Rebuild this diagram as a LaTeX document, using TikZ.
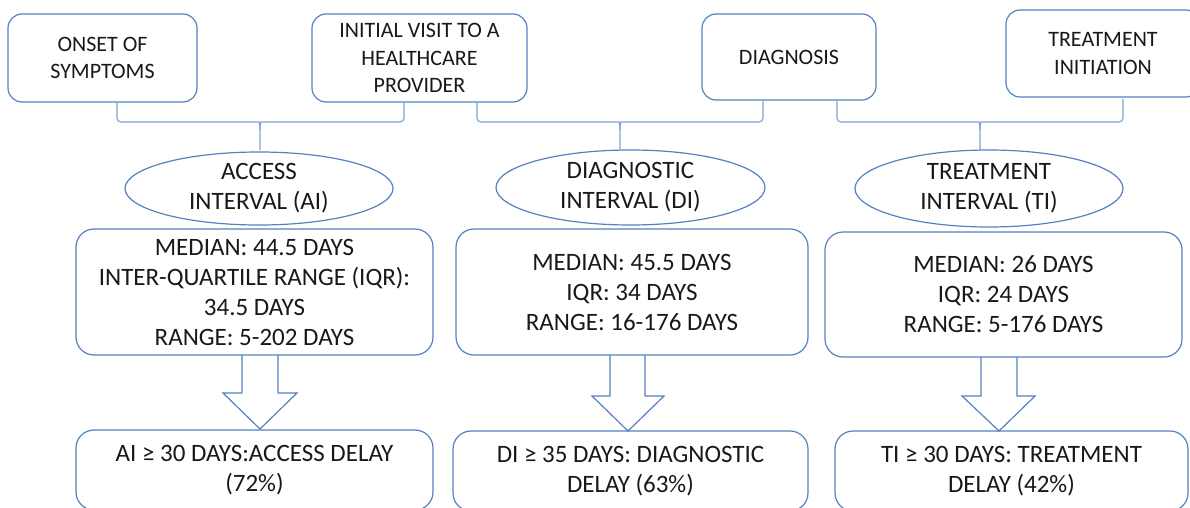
\documentclass[tikz,border=0pt]{standalone}
\usepackage{fontspec}
\setmainfont{Carlito}
\usetikzlibrary{shapes.geometric}
\definecolor{bl}{RGB}{84,130,190}
\definecolor{brc}{RGB}{125,165,214}
\definecolor{txt}{RGB}{25,25,25}
\tikzset{
  topbox/.style={draw=bl, line width=1.2pt, rounded corners=14pt, fill=white, align=center,
    font=\fontsize{22}{27.5}\selectfont, text=txt, inner sep=0pt},
  midbox/.style={draw=bl, line width=1.2pt, rounded corners=18pt, fill=white, align=center,
    font=\fontsize{25}{30}\selectfont, text=txt, inner sep=0pt},
  ell/.style={draw=bl, line width=1.2pt, ellipse, fill=white, inner sep=0pt},
  lbl/.style={align=center, font=\fontsize{25}{30}\selectfont, text=txt, inner sep=0pt},
  bracket/.style={draw=brc, line width=1.2pt},
  blockarrow/.style={draw=bl, line width=1.2pt, line join=miter},
}
\newcommand\mybrace[5]{%
  \draw[bracket] (#1,#5) [rounded corners=4pt]-- (#1,122) -- ({#2-5},122) [sharp corners] .. controls ({#2-1},122) and (#2,124) .. (#2,130) -- (#2,150);
  \draw[bracket] (#3,#4) [rounded corners=4pt]-- (#3,122) -- ({#2+5},122) [sharp corners] .. controls ({#2+1},122) and (#2,124) .. (#2,130);
}
\begin{document}
\begin{tikzpicture}[x=1pt,y=-1pt]
\useasboundingbox (0,0) rectangle (1190,508);
\clip (0,0) rectangle (1190,508);
% top boxes
\node[topbox, minimum width=189pt, minimum height=88pt] (onset) at (102.5,58) {ONSET OF\\SYMPTOMS};
\node[topbox, minimum width=215pt, minimum height=88pt] (visit) at (419.5,58) {INITIAL VISIT TO A\\HEALTHCARE\\PROVIDER};
\node[topbox, minimum width=174pt, minimum height=86pt] (diag) at (789,57) {DIAGNOSIS};
\node[topbox, minimum width=194pt, minimum height=87pt] (treat) at (1103,53.5) {TREATMENT\\INITIATION};
% braces
\mybrace{117}{260}{404}{102}{102}
\mybrace{477}{620}{763}{101}{102}
\mybrace{837}{980}{1123}{99}{101}
% ellipses
\node[ell, minimum width=268pt, minimum height=73pt] (e1) at (259,188.5) {};
\node[lbl] (t1) at (e1) {ACCESS\\INTERVAL (AI)};
\node[ell, minimum width=269pt, minimum height=75pt] (e2) at (630.5,187.5) {};
\node[lbl] (t2) at (e2) {DIAGNOSTIC\\INTERVAL (DI)};
\node[ell, minimum width=268pt, minimum height=77pt] (e3) at (989,188.5) {};
\node[lbl] (t3) at (e3) {TREATMENT\\INTERVAL (TI)};
% middle boxes
\node[midbox, minimum width=357pt, minimum height=126pt] (m1) at (254.5,292) {MEDIAN: 44.5 DAYS\\INTER-QUARTILE RANGE (IQR):\\34.5 DAYS\\RANGE: 5-202 DAYS};
\node[midbox, minimum width=352pt, minimum height=126pt] (m2) at (632,292) {MEDIAN: 45.5 DAYS\\IQR: 34 DAYS\\RANGE: 16-176 DAYS};
\node[midbox, minimum width=357pt, minimum height=125pt] (m3) at (1003.5,294.5) {MEDIAN: 26 DAYS\\IQR: 24 DAYS\\RANGE: 5-176 DAYS};
% bottom boxes
\node[midbox, minimum width=357pt, minimum height=80pt] (d1) at (254.5,470) {AI ≥ 30 DAYS:ACCESS DELAY\\(72\%)};
\node[midbox, minimum width=355pt, minimum height=80pt] (d2) at (630.5,471) {DI ≥ 35 DAYS: DIAGNOSTIC\\DELAY (63\%)};
\node[midbox, minimum width=353pt, minimum height=80pt] (d3) at (1011.5,471) {TI ≥ 30 DAYS: TREATMENT\\DELAY (42\%)};
% block arrows
\draw[blockarrow] (242,355) -- (242,393) -- (223,393) -- (260,429) -- (297,393) -- (278,393) -- (278,355);
\draw[blockarrow] (610,355) -- (610,396) -- (592,396) -- (628,431) -- (664,396) -- (645,396) -- (645,355);
\draw[blockarrow] (981,357) -- (981,396) -- (962,396) -- (999,431) -- (1035,396) -- (1017,396) -- (1017,357);
\end{tikzpicture}
\end{document}
